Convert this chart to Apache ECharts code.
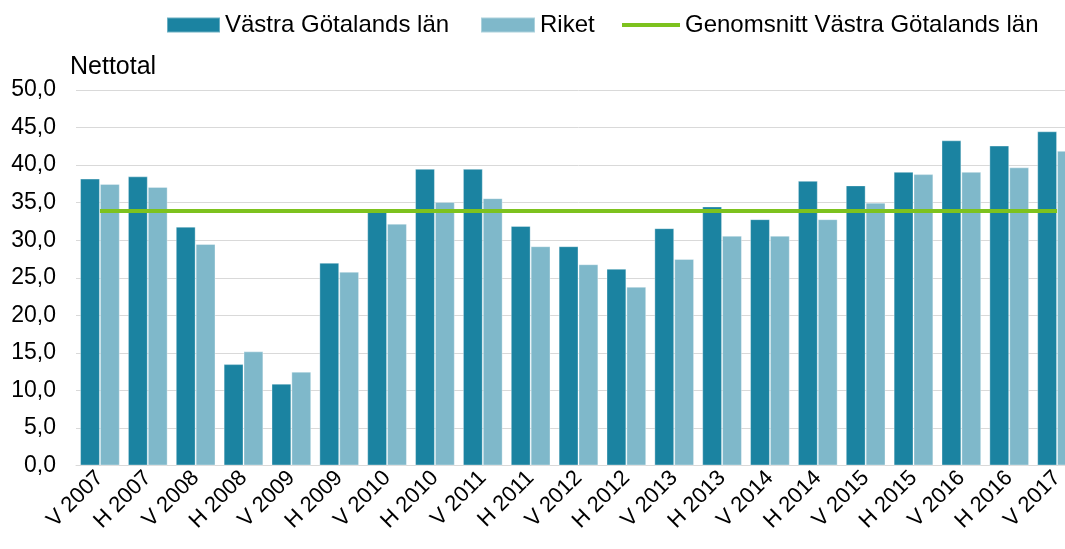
<!DOCTYPE html>
<html>
<head>
<meta charset="utf-8">
<script src="https://cdn.jsdelivr.net/npm/echarts@6/dist/echarts.min.js"></script>
<style>
    html, body { margin: 0; padding: 0; background: #fff; overflow: hidden; }
    #chart { width: 1081px; height: 549px; }
</style>
</head>
<body>
<div id="chart"></div>
<script>
// kategorier (halvår)
let categories = ['V 2007', 'H 2007', 'V 2008', 'H 2008', 'V 2009', 'H 2009', 'V 2010', 'H 2010', 'V 2011', 'H 2011',
    'V 2012', 'H 2012', 'V 2013', 'H 2013', 'V 2014', 'H 2014', 'V 2015', 'H 2015', 'V 2016', 'H 2016', 'V 2017'];
// nettotal per region
let vastraGotaland = [38.2, 38.5, 31.8, 13.5, 10.9, 27.0, 34.0, 39.5, 39.5, 31.9, 29.2, 26.2, 31.6, 34.5, 32.8, 37.9, 37.3, 39.1, 43.3, 42.6, 44.5];
let riket = [37.5, 37.1, 29.5, 15.2, 12.5, 25.8, 32.2, 35.1, 35.6, 29.2, 26.8, 23.8, 27.5, 30.6, 30.6, 32.8, 35.0, 38.8, 39.1, 39.7, 41.9];
let genomsnitt = [33.9, 33.9, 33.9, 33.9, 33.9, 33.9, 33.9, 33.9, 33.9, 33.9, 33.9, 33.9, 33.9, 33.9, 33.9, 33.9, 33.9, 33.9, 33.9, 33.9, 33.9];

let myChart = echarts.init(document.getElementById('chart'));
let font = 'Liberation Sans, Arial, sans-serif';
let legendText = { fontSize: 24, color: '#000', fontFamily: font };

let option = {
    animation: false,
    textStyle: { fontFamily: font },
    legend: [
        {
            top: 8, left: 161, itemWidth: 53, itemHeight: 15, itemGap: 0,
            textStyle: legendText,
            data: [{ name: 'Västra Götalands län', icon: 'rect' }]
        },
        {
            top: 8, left: 475, itemWidth: 54, itemHeight: 15, itemGap: 0,
            textStyle: legendText,
            data: [{ name: 'Riket', icon: 'rect' }]
        },
        {
            top: 8, left: 615, itemWidth: 58, itemHeight: 15, itemGap: 0,
            textStyle: legendText,
            data: [{
                name: 'Genomsnitt Västra Götalands län',
                itemStyle: { opacity: 0 },
                lineStyle: { width: 4 }
            }]
        }
    ],
    grid: {
        left: 76,
        top: 90,
        width: 1005,
        height: 375.5,
        containLabel: false
    },
    xAxis: {
        type: 'category',
        data: categories,
        axisLine: { show: true, lineStyle: { color: '#d9d9d9', width: 1 } },
        axisTick: { show: false },
        axisLabel: {
            interval: 0,
            rotate: 45,
            fontSize: 22,
            color: '#000',
            margin: 9,
            fontFamily: font
        }
    },
    yAxis: {
        type: 'value',
        min: 0,
        max: 50,
        interval: 5,
        name: 'Nettotal',
        nameLocation: 'end',
        nameGap: 10,
        nameTextStyle: { fontSize: 25, color: '#000', align: 'left', padding: [0, 0, 0, -6], fontFamily: font },
        axisLine: { show: false },
        axisTick: { show: false },
        splitLine: { lineStyle: { color: '#d9d9d9', width: 1 } },
        axisLabel: {
            fontSize: 23,
            color: '#000',
            margin: 20,
            fontFamily: font,
            formatter: function (v) {
                return v.toFixed(1).replace('.', ',');
            }
        }
    },
    series: [
        {
            name: 'Västra Götalands län',
            type: 'bar',
            data: vastraGotaland,
            barGap: '0%',
            barCategoryGap: '17%',
            itemStyle: { color: '#1b83a1', borderColor: 'rgba(255,255,255,0.35)', borderWidth: 1 }
        },
        {
            name: 'Riket',
            type: 'bar',
            data: riket,
            itemStyle: { color: '#7fb8ca', borderColor: 'rgba(255,255,255,0.35)', borderWidth: 1 }
        },
        {
            name: 'Genomsnitt Västra Götalands län',
            type: 'line',
            data: genomsnitt,
            symbol: 'none',
            z: 5,
            lineStyle: { color: '#7dc21e', width: 4 },
            itemStyle: { color: '#7dc21e' }
        }
    ]
};
myChart.setOption(option);
</script>
</body>
</html>
